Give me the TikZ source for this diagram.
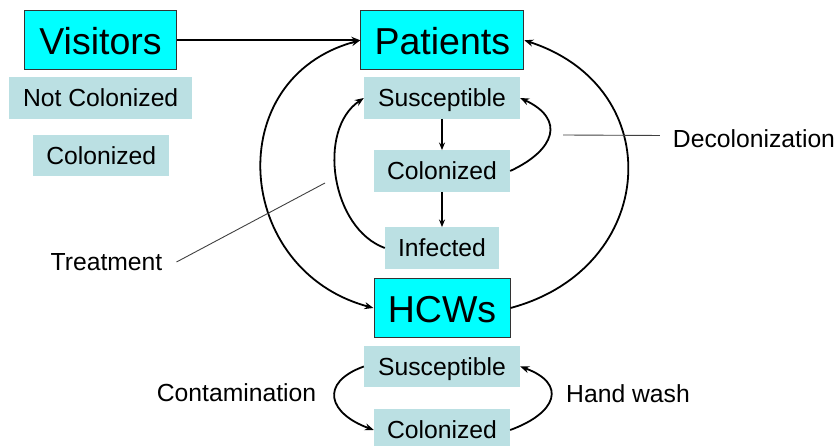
\documentclass[tikz,border=0pt]{standalone}
\usepackage{fontspec}
\setmainfont{Liberation Sans}
\usetikzlibrary{arrows.meta}
\definecolor{boxcyan}{RGB}{0,255,255}
\definecolor{boxpale}{RGB}{187,224,227}
\begin{document}
\begin{tikzpicture}[x=1bp,y=1bp,
    group/.style={draw=black!80,line width=1bp,fill=boxcyan,minimum width=#1,minimum height=59bp,
        inner sep=0pt,text height=29bp,text depth=0pt,font=\fontsize{37.5bp}{40bp}\selectfont},
    state/.style={fill=boxpale,minimum width=#1,minimum height=41.5bp,
        inner sep=0pt,text height=18bp,text depth=0pt,font=\fontsize{24.7bp}{28bp}\selectfont},
    note/.style={inner sep=0pt,text height=17.7bp,text depth=0pt,font=\fontsize{24.7bp}{28bp}\selectfont},
    flow/.style={line width=1.8bp,-{Stealth[length=9bp,width=7bp]}},
    twoway/.style={line width=1.8bp,{Stealth[length=9bp,width=7bp]}-{Stealth[length=9bp,width=7bp]}},
    stepflow/.style={line width=1.2bp,-{Stealth[length=7.5bp,width=6bp]}},
    pointer/.style={line width=0.9bp,black!75}]
    \useasboundingbox (0,0) rectangle (838,446);
    % main groups
    \node[group=151bp] (vis) at (100.5,405.7) {Visitors};
    \node[group=163bp] (pat) at (442.3,405.7) {Patients};
    \node[group=136bp] (hcw) at (442,138) {HCWs};
    % visitor states
    \node[state=183bp] (notcol) at (100.7,348) {Not Colonized};
    \node[state=136bp] (viscol) at (101.3,290.5) {Colonized};
    % patient states
    \node[state=156bp] (psus) at (442,348) {Susceptible};
    \node[state=136bp] (pcol) at (442,275) {Colonized};
    \node[state=114bp] (pinf) at (442,198) {Infected};
    % hcw states
    \node[state=156bp] (hsus) at (442,79.5) {Susceptible};
    \node[state=136bp] (hcol) at (442,16) {Colonized};
    % labels
    \node[note] (decol) at (754,307) {Decolonization};
    \node[note] (treat) at (106.5,184) {Treatment};
    \node[note] (contam) at (236.5,53.3) {Contamination};
    \node[note] (wash) at (628,52.5) {Hand wash};
    \coordinate (decolpt) at (563,311);
    \coordinate (treatpt) at (325,263);
    % transmission
    \draw[flow] (vis.east) -- (pat.west);
    \draw[twoway] (pat.west) to[out=195,in=165,distance=145bp] (hcw.west);
    \draw[flow] (hcw.east) to[out=15,in=-18,distance=153bp] (pat.east);
    % patient progression
    \draw[stepflow] (psus) -- (pcol);
    \draw[stepflow] (pcol) -- (pinf);
    \draw[flow] (pinf.west) to[out=160,in=214,distance=57bp] (psus.west);
    \draw[flow] (pcol.east) to[out=25,in=-25,distance=50bp] (psus.east);
    % hcw contamination
    \draw[flow] (hsus.west) to[out=200,in=160,distance=48bp] (hcol.west);
    \draw[flow] (hcol.east) to[out=20,in=-20,distance=50bp] (hsus.east);
    % label lines
    \draw[pointer] ([shift={(-13bp,3.5bp)}]decol.west) -- (decolpt);
    \draw[pointer] ([xshift=14bp]treat.east) -- (treatpt);
\end{tikzpicture}
\end{document}
